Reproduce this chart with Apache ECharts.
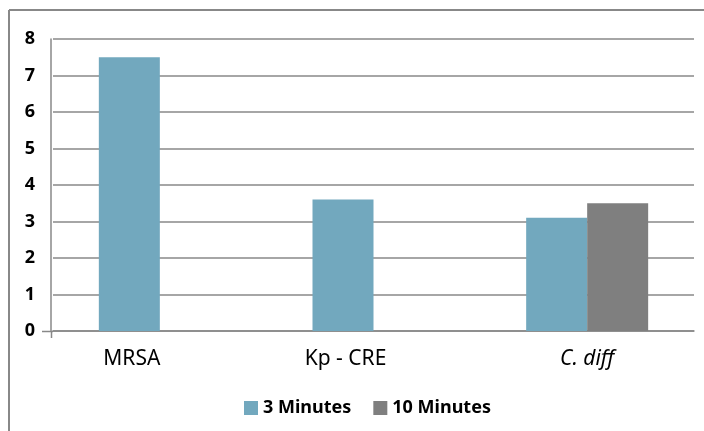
<!DOCTYPE html>
<html><head><meta charset="utf-8">
<script src="https://cdn.jsdelivr.net/npm/echarts@6/dist/echarts.min.js"></script>
<style>html,body{margin:0;padding:0;background:#fff}#c{width:704px;height:431px}</style>
</head><body><div id="c"></div>
<script>
const categories = ['MRSA', 'Kp - CRE', 'C. diff'];
const threeMinutes = [7.5, 3.6, 3.1];
const tenMinutes = [null, null, 3.5];
const yTicks = [0, 1, 2, 3, 4, 5, 6, 7, 8];

const FONT = 'Noto Sans';
const chart = echarts.init(document.getElementById('c'), null, {renderer: 'canvas'});
chart.setOption({
  animation: false,
  backgroundColor: '#fff',
  textStyle: {fontFamily: FONT},
  graphic: [
    {type: 'line', shape: {x1: 9, y1: 10, x2: 704, y2: 10}, style: {stroke: '#888', lineWidth: 2}},
    {type: 'line', shape: {x1: 9, y1: 10, x2: 9, y2: 431}, style: {stroke: '#888', lineWidth: 2}},
    {type: 'line', shape: {x1: 42, y1: 331.5, x2: 53, y2: 331.5}, style: {stroke: '#888', lineWidth: 1.5}},
    {type: 'line', shape: {x1: 51.5, y1: 331, x2: 51.5, y2: 338}, style: {stroke: '#888', lineWidth: 1.5}}
  ],
  grid: {left: 53, right: 10, top: 39, bottom: 100, containLabel: false},
  legend: {
    bottom: 9, left: 239, itemWidth: 14, itemHeight: 14, itemGap: 22,
    icon: 'rect',
    textStyle: {fontFamily: FONT, fontWeight: 'bold', fontSize: 18, color: '#000'},
    data: ['3 Minutes', '10 Minutes']
  },
  xAxis: {
    type: 'category', data: categories,
    axisLine: {lineStyle: {color: '#888', width: 1.5}},
    axisTick: {show: false},
    axisLabel: {
      margin: 18, fontSize: 21, color: '#000', fontFamily: FONT,
      formatter: v => v === 'C. diff' ? '{i|' + v + '}' : '{s|' + v + '}',
      rich: {
        i: {fontStyle: 'italic', fontSize: 21, color: '#000', fontFamily: FONT},
        s: {fontSize: 21, color: '#000', fontFamily: FONT, padding: [0, 56, 0, 0]}
      }
    }
  },
  yAxis: {
    type: 'value', min: 0, max: 8, interval: 1, offset: 2,
    axisLine: {show: true, lineStyle: {color: '#888', width: 1.5}},
    axisTick: {show: false},
    splitLine: {lineStyle: {color: '#888', width: 1.5}},
    axisLabel: {margin: 16, fontSize: 18, fontWeight: 'bold', color: '#000', fontFamily: FONT,
      formatter: v => yTicks.includes(v) ? String(v) : ''}
  },
  series: [
    {name: '3 Minutes', type: 'bar', data: threeMinutes, barWidth: 61, barGap: '0%',
     itemStyle: {color: '#72A8BE'}},
    {name: '10 Minutes', type: 'bar', data: tenMinutes, barWidth: 61, barGap: '0%',
     itemStyle: {color: '#7F7F7F'}}
  ]
});
</script></body></html>
